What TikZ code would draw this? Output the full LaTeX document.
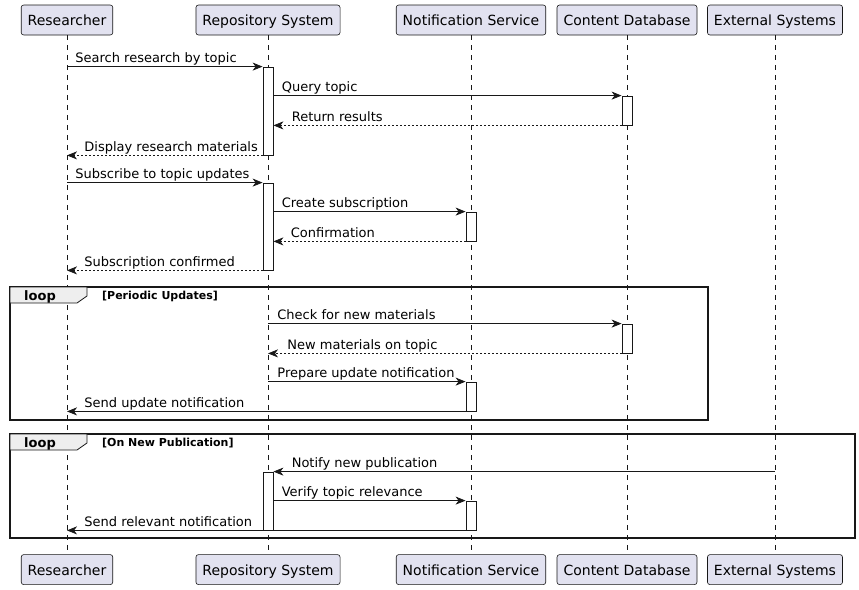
\documentclass[tikz,border=0pt]{standalone}
\usepackage{fontspec}
\setmainfont{DejaVu Sans}
\usetikzlibrary{positioning,arrows.meta}
\definecolor{partFill}{HTML}{E2E2F0}
\definecolor{lineDark}{HTML}{181818}
\definecolor{tabFill}{HTML}{EEEEEE}

\begin{document}
\begin{tikzpicture}[x=1pt,y=-1pt,
      part/.style={draw=lineDark,fill=partFill,rounded corners=2.5pt,minimum height=30pt,inner xsep=6.5pt,text height=13pt,text depth=2pt,line width=0.6pt,font=\fontsize{14}{16}\selectfont},
      life/.style={draw=lineDark,line width=0.5pt,dash pattern=on 5pt off 5pt},
      act/.style={draw=lineDark,fill=white,minimum width=10pt,inner sep=0pt,line width=0.8pt},
      msg/.style={draw=lineDark,line width=0.8pt,-{Stealth[length=10pt,width=8pt,inset=3pt]}},
      ret/.style={msg,dash pattern=on 2pt off 2pt},
      lbl/.style={font=\fontsize{13}{15}\selectfont,inner sep=0pt,anchor=base west,yshift=4pt},
      frm/.style={draw=lineDark,line width=1.5pt},
      looptab/.style={draw=lineDark,fill=tabFill,line width=0.8pt},
      looptag/.style={font=\bfseries\fontsize{13}{15}\selectfont,inner sep=0pt,anchor=base},
      guard/.style={font=\bfseries\fontsize{11}{13}\selectfont,inner sep=0pt,anchor=base west}]
    \useasboundingbox (0,0) rectangle (859,589);
    % participants
    \node[part] (rTop) at (67,20) {Researcher};
    \node[part] (rsTop) at (268,20) {Repository System};
    \node[part] (nsTop) at (471,20) {Notification Service};
    \node[part] (cdTop) at (627,20) {Content Database};
    \node[part] (esTop) at (775,20) {External Systems};
    \node[part,below=519pt of rTop] (rBot) {Researcher};
    \node[part,below=519pt of rsTop] (rsBot) {Repository System};
    \node[part,below=519pt of nsTop] (nsBot) {Notification Service};
    \node[part,below=519pt of cdTop] (cdBot) {Content Database};
    \node[part,below=519pt of esTop] (esBot) {External Systems};
    \foreach \p in {r,rs,ns,cd,es}
      \draw[life] (\p Top.south) -- (\p Bot.north);
    % loop frames
    \draw[frm] (10,287) rectangle (708,420);
    \draw[looptab] (10,287) -- (87,287) -- (87,296) -- (77,303) -- (10,303) -- cycle;
    \node[looptag] (loopA) at (40,300) {loop};
    \node[guard] (guardA) at (102,299) {[Periodic Updates]};
    \draw[frm] (10,434) rectangle (855,538);
    \draw[looptab] (10,434) -- (87,434) -- (87,443) -- (77,450) -- (10,450) -- cycle;
    \node[looptag] (loopB) at (40,447) {loop};
    \node[guard] (guardB) at (102,446) {[On New Publication]};
    % activations
    \node[act,minimum height=88pt] (a1) at (268,111) {};
    \node[act,minimum height=29pt] (a2) at (627,110.5) {};
    \node[act,minimum height=87pt] (a3) at (268,226.5) {};
    \node[act,minimum height=29pt] (a4) at (471,226.5) {};
    \node[act,minimum height=29pt] (a5) at (627,338.5) {};
    \node[act,minimum height=29pt] (a6) at (471,396.5) {};
    \node[act,minimum height=58pt] (a7) at (268,501) {};
    \node[act,minimum height=29pt] (a8) at (471,515.5) {};
    % messages
    \draw[msg] (rTop |- a1.north) -- (a1.north west) node[lbl,pos=0,xshift=8pt] {Search research by topic};
    \draw[msg] (a1.east |- a2.north) -- (a2.north west) node[lbl,pos=0,xshift=8pt] {Query topic};
    \draw[ret] (a2.south west) -- (a1.east |- a2.south) node[lbl,pos=1,xshift=18pt] {Return results};
    \draw[ret] (a1.south west) -- (rTop |- a1.south) node[lbl,pos=1,xshift=17pt] {Display research materials};
    \draw[msg] (rTop |- a3.north) -- (a3.north west) node[lbl,pos=0,xshift=8pt] {Subscribe to topic updates};
    \draw[msg] (a3.east |- a4.north) -- (a4.north west) node[lbl,pos=0,xshift=8pt] {Create subscription};
    \draw[ret] (a4.south west) -- (a3.east |- a4.south) node[lbl,pos=1,xshift=17pt] {Confirmation};
    \draw[ret] (a3.south west) -- (rTop |- a3.south) node[lbl,pos=1,xshift=17pt] {Subscription confirmed};
    \draw[msg] (rsTop |- a5.north) -- (a5.north west) node[lbl,pos=0,xshift=9pt] {Check for new materials};
    \draw[ret] (a5.south west) -- (rsTop |- a5.south) node[lbl,pos=1,xshift=19pt] {New materials on topic};
    \draw[msg] (rsTop |- a6.north) -- (a6.north west) node[lbl,pos=0,xshift=9pt] {Prepare update notification};
    \draw[msg] (a6.south west) -- (rTop |- a6.south) node[lbl,pos=1,xshift=17pt] {Send update notification};
    \draw[msg] (esTop |- a7.north) -- (a7.north east) node[lbl,pos=1,xshift=18pt] {Notify new publication};
    \draw[msg] (a7.east |- a8.north) -- (a8.north west) node[lbl,pos=0,xshift=8pt] {Verify topic relevance};
    \draw[msg] (a8.south west) -- (rTop |- a8.south) node[lbl,pos=1,xshift=17pt] {Send relevant notification};
  \end{tikzpicture}
\end{document}
